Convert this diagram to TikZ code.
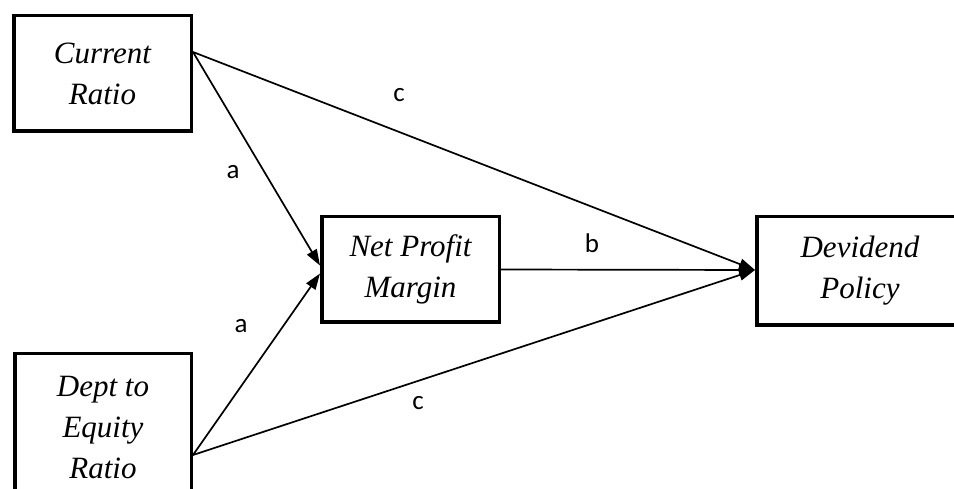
\documentclass[tikz,border=0pt]{standalone}
\usepackage{fontspec}
\setmainfont{Liberation Serif}
\newfontfamily\lblfont{Carlito}
\usetikzlibrary{arrows.meta,positioning,calc}

\begin{document}
\begin{tikzpicture}[x=1pt, y=1pt,
  every node/.style={font=\fontsize{31}{41}\selectfont\itshape},
  box/.style={draw, line width=3.5pt, align=center, inner sep=0pt},
  lbl/.style={font=\lblfont\fontsize{27}{30}\selectfont},
  link/.style={line width=1.7pt, -{Triangle[length=16pt,width=11pt]}}]
  \useasboundingbox (0,0) rectangle (954,488);
  \clip (0,0) rectangle (954,488);
  % variables
  \node[box, minimum width=177.5pt, minimum height=115.5pt] (cr) at (102.5,414.5) {Current\\Ratio};
  \node[box, minimum width=176.5pt, minimum height=148.5pt] (der) at (103,60) {Dept to\\Equity\\Ratio};
  \node[box, minimum width=177.5pt, minimum height=105.5pt] (npm) at (410.5,218.5) {Net Profit\\Margin};
  \node[box, minimum width=206.5pt, minimum height=108.5pt] (dp) at (860,217) {Devidend\\Policy};
  % paths
  \draw[link] ([yshift=21.5pt]cr.east) -- ([yshift=4pt]npm.west);
  \draw[link] ([yshift=21.5pt]cr.east) -- ([yshift=1pt]dp.west);
  \draw[link] ([yshift=-27pt]der.east) -- ([yshift=-4pt]npm.west);
  \draw[link] ([yshift=-27pt]der.east) -- ([yshift=1pt]dp.west);
  \draw[link] (npm.east) -- ([yshift=1pt]dp.west);
  % path labels
  \node[lbl] (lc1) at (399,393) {c};
  \node[lbl] (la1) at (233,316) {a};
  \node[lbl] (lb) at (592,245) {b};
  \node[lbl] (la2) at (241,162) {a};
  \node[lbl] (lc2) at (418,85) {c};
\end{tikzpicture}
\end{document}
